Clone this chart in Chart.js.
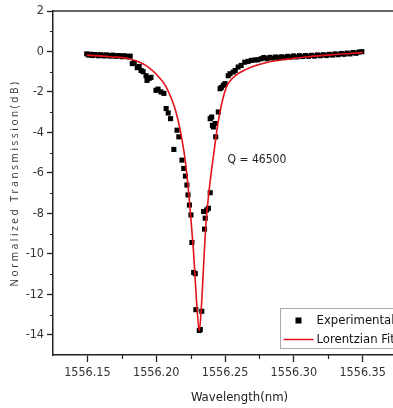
<!DOCTYPE html>
<html>
<head>
<meta charset="utf-8">
<script src="https://cdn.jsdelivr.net/npm/chart.js@4.4.0/dist/chart.umd.min.js"></script>
<style>
  html, body { margin: 0; padding: 0; background: #fff; overflow: hidden; }
  #wrap { width: 393px; height: 408px; overflow: hidden; }
</style>
</head>
<body>
<div id="wrap"><canvas id="chart" width="430" height="408"></canvas></div>
<script>
// measured points (wavelength in nm, transmission in dB)
var expX = [
  1556.1495, 1556.1509, 1556.1523, 1556.1538, 1556.1552, 1556.1567, 1556.1581, 1556.1595,
  1556.1610, 1556.1624, 1556.1638, 1556.1653, 1556.1667, 1556.1682, 1556.1696, 1556.1710,
  1556.1725, 1556.1739, 1556.1754, 1556.1768, 1556.1782, 1556.1797, 1556.1811,
  1556.1826, 1556.1840, 1556.1862, 1556.1876, 1556.1890, 1556.1905, 1556.1926, 1556.1933,
  1556.1948, 1556.1962, 1556.1998, 1556.2013, 1556.2034, 1556.2056, 1556.2072, 1556.2087,
  1556.2104, 1556.2128, 1556.2151, 1556.2164, 1556.2187, 1556.2200, 1556.2212, 1556.2223,
  1556.2231, 1556.2241, 1556.2252, 1556.2259, 1556.2272, 1556.2284, 1556.2288, 1556.2313,
  1556.2320, 1556.2331, 1556.2344, 1556.2351, 1556.2356, 1556.2367, 1556.2379, 1556.2392,
  1556.2392, 1556.2403, 1556.2408, 1556.2415, 1556.2428, 1556.2432, 1556.2451, 1556.2464,
  1556.2473, 1556.2487, 1556.2500, 1556.2523, 1556.2536, 1556.2559, 1556.2574, 1556.2595,
  1556.2617, 1556.2643, 1556.2667, 1556.2691, 1556.2718, 1556.2739, 1556.2763,
  1556.2782, 1556.2804, 1556.2826, 1556.2847, 1556.2869, 1556.2890, 1556.2912, 1556.2933,
  1556.2955, 1556.2977, 1556.2998, 1556.3020, 1556.3041, 1556.3063, 1556.3085, 1556.3106,
  1556.3128, 1556.3149, 1556.3171, 1556.3192, 1556.3214, 1556.3236, 1556.3257, 1556.3279,
  1556.3300, 1556.3322, 1556.3344, 1556.3365, 1556.3387, 1556.3408, 1556.3430, 1556.3451,
  1556.3473, 1556.3494
];
var expY = [
  -0.12, -0.18, -0.14, -0.20, -0.15, -0.17, -0.21, -0.16,
  -0.19, -0.22, -0.17, -0.20, -0.23, -0.18, -0.21, -0.24,
  -0.20, -0.22, -0.26, -0.21, -0.24, -0.27, -0.23,
  -0.60, -0.55, -0.80, -0.74, -0.94, -1.00, -1.20, -1.43,
  -1.33, -1.28, -1.92, -1.86, -2.00, -2.07, -2.82, -3.04,
  -3.32, -4.84, -3.89, -4.22, -5.37, -5.78, -6.16, -6.60,
  -7.09, -7.59, -8.08, -9.44, -10.92, -10.98, -12.76, -13.79,
  -13.74, -12.84, -7.91, -8.78, -8.24, -7.83, -7.75, -6.98,
  -3.32, -3.24, -3.65, -3.73, -3.56, -4.22, -2.99, -1.84,
  -1.78, -1.67, -1.59, -1.20, -1.10, -1.02, -0.94, -0.77,
  -0.69, -0.53, -0.49, -0.44, -0.42, -0.41, -0.36,
  -0.30, -0.36, -0.29, -0.33, -0.27, -0.31, -0.26, -0.30,
  -0.24, -0.28, -0.22, -0.27, -0.21, -0.25, -0.20, -0.24,
  -0.19, -0.23, -0.17, -0.21, -0.16, -0.20, -0.14, -0.18,
  -0.12, -0.16, -0.10, -0.14, -0.08, -0.12, -0.05, -0.09,
  -0.03, -0.01
];

// fit curve
var fitX = [
  1556.1495, 1556.1660, 1556.1804, 1556.1924, 1556.2020, 1556.2070, 1556.2115, 1556.2142,
  1556.2176, 1556.2212, 1556.2236, 1556.2257, 1556.2272, 1556.2295, 1556.2313, 1556.2327,
  1556.2344, 1556.2360, 1556.2379, 1556.2401, 1556.2415, 1556.2446, 1556.2475, 1556.2500,
  1556.2523, 1556.2595, 1556.2691, 1556.2811, 1556.2955, 1556.3087, 1556.3243, 1556.3387,
  1556.3502
];
var fitY = [
  -0.18, -0.26, -0.36, -0.69, -1.27, -1.72, -2.41, -2.95,
  -3.95, -5.45, -7.00, -8.70, -10.00, -12.55, -13.80, -12.75,
  -10.60, -8.65, -7.20, -5.90, -5.20, -3.65, -2.60, -1.95,
  -1.58, -1.10, -0.77, -0.53, -0.38, -0.27, -0.18, -0.11,
  -0.05
];

var xTicks = [1556.15, 1556.20, 1556.25, 1556.30, 1556.35];
var xMinor = [1556.175, 1556.225, 1556.275, 1556.325, 1556.375];
var yTicks = [2, 0, -2, -4, -6, -8, -10, -12, -14];
var yMinor = [1, -1, -3, -5, -7, -9, -11, -13];
var seriesNames = ['Experimental', 'Lorentzian Fit'];
var qText = 'Q = 46500';

var narrow = "'Liberation Sans Narrow', 'DejaVu Sans Condensed', 'Liberation Sans', sans-serif";
var ink = '#222';
var red = '#e3121b';

// y title is letter-spaced in the original
var baseDrawTitle = Chart.Scale.prototype.drawTitle;
Chart.Scale.prototype.drawTitle = function () {
  if (this.id === 'y') {
    this.ctx.save();
    this.ctx.letterSpacing = '2.6px';
    baseDrawTitle.call(this);
    this.ctx.restore();
  } else {
    baseDrawTitle.call(this);
  }
};

var extras = {
  id: 'extras',
  afterDraw: function (chart) {
    var ctx = chart.ctx;
    var area = chart.chartArea;
    var xs = chart.scales.x, ys = chart.scales.y;
    ctx.save();

    // top frame line
    ctx.strokeStyle = '#333';
    ctx.lineWidth = 1.5;
    ctx.beginPath();
    ctx.moveTo(area.left, area.top);
    ctx.lineTo(area.right, area.top);
    ctx.stroke();

    // minor ticks
    ctx.strokeStyle = ink;
    ctx.lineWidth = 1.2;
    ctx.beginPath();
    xMinor.forEach(function (v) {
      var px = Math.round(xs.getPixelForValue(v)) + 0.5;
      ctx.moveTo(px, area.bottom);
      ctx.lineTo(px, area.bottom + 4);
    });
    yMinor.forEach(function (v) {
      var py = Math.round(ys.getPixelForValue(v)) + 0.5;
      ctx.moveTo(area.left, py);
      ctx.lineTo(area.left - 3, py);
    });
    ctx.stroke();

    // Q annotation
    ctx.fillStyle = ink;
    ctx.font = '12px ' + narrow;
    ctx.textBaseline = 'middle';
    ctx.textAlign = 'left';
    ctx.fillText(qText, xs.getPixelForValue(1556.2518), ys.getPixelForValue(-5.35));

    // legend
    var lx = 280.5, ly = 308.5;
    ctx.fillStyle = '#fff';
    ctx.fillRect(lx, ly, 150, 40);
    ctx.strokeStyle = '#aaa';
    ctx.lineWidth = 1;
    ctx.strokeRect(lx, ly, 150, 40);
    ctx.fillStyle = '#000';
    ctx.fillRect(lx + 15, ly + 9, 6, 6);
    ctx.strokeStyle = red;
    ctx.lineWidth = 1.5;
    ctx.beginPath();
    ctx.moveTo(lx + 3, ly + 31);
    ctx.lineTo(lx + 33, ly + 31);
    ctx.stroke();
    ctx.fillStyle = '#111';
    ctx.font = '13px ' + narrow;
    ctx.fillText(seriesNames[0], lx + 36, ly + 12);
    ctx.fillText(seriesNames[1], lx + 36, ly + 31);
    ctx.restore();
  }
};

new Chart(document.getElementById('chart'), {
  type: 'scatter',
  data: {
    datasets: [{
      type: 'line',
      label: seriesNames[1],
      data: fitX.map(function (x, i) { return {x: x, y: fitY[i]}; }),
      borderColor: red,
      borderWidth: 1.6,
      pointRadius: 0,
      cubicInterpolationMode: 'monotone',
      fill: false,
      order: 1
    }, {
      label: seriesNames[0],
      data: expX.map(function (x, i) { return {x: x, y: expY[i]}; }),
      pointStyle: 'rect',
      pointRadius: 3.6,
      backgroundColor: '#000',
      borderWidth: 0,
      order: 2
    }]
  },
  options: {
    responsive: false,
    animation: false,
    devicePixelRatio: 1,
    layout: { padding: { left: 0, top: 11, right: 0, bottom: 0 } },
    plugins: { legend: { display: false }, tooltip: { enabled: false } },
    scales: {
      x: {
        type: 'linear',
        min: 1556.125,
        max: 1556.396,
        afterBuildTicks: function (scale) {
          scale.ticks = xTicks.map(function (v) { return {value: v}; });
        },
        afterFit: function (scale) { scale.height = 53; },
        border: { color: ink, width: 1.5 },
        grid: { drawOnChartArea: false, tickLength: 7, tickColor: ink, tickWidth: 1.3 },
        ticks: {
          color: '#333',
          padding: 3,
          maxRotation: 0,
          font: { family: narrow, size: 12.5 },
          callback: function (v) { return v.toFixed(2); }
        },
        title: {
          display: true,
          text: 'Wavelength(nm)',
          color: '#222',
          font: { family: narrow, size: 13 },
          padding: { top: 0, bottom: 3 }
        }
      },
      y: {
        min: -15,
        max: 2,
        afterBuildTicks: function (scale) {
          scale.ticks = yTicks.map(function (v) { return {value: v}; });
        },
        afterFit: function (scale) { scale.width = 53; },
        border: { color: ink, width: 1.5 },
        grid: { drawOnChartArea: false, tickLength: 6, tickColor: ink, tickWidth: 1.3 },
        ticks: {
          color: '#333',
          padding: 3,
          font: { family: narrow, size: 12.5 },
          callback: function (v) { return String(v); }
        },
        title: {
          display: true,
          text: 'Normalized Transmission(dB)',
          color: '#333',
          font: { family: "'Open Sans', sans-serif", size: 10 },
          padding: { top: 9, bottom: 0 }
        }
      }
    }
  },
  plugins: [extras]
});
</script>
</body>
</html>
